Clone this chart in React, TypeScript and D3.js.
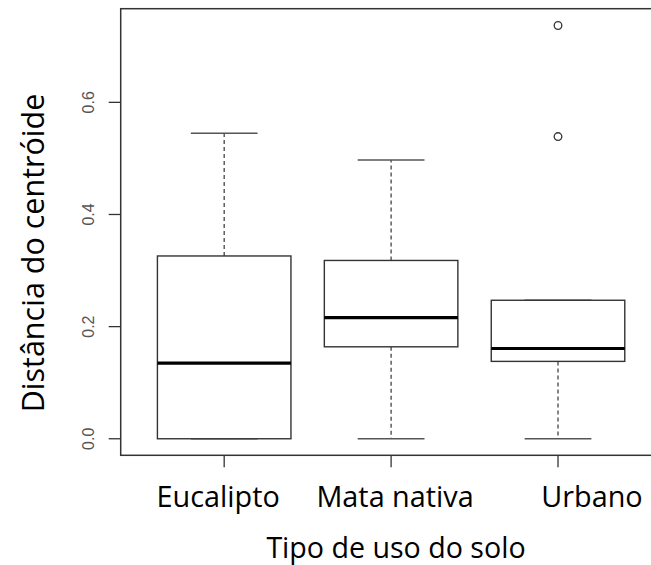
import React from "react";
import * as d3 from "d3";

const categories = ["Eucalipto", "Mata nativa", "Urbano"];
const lowerWhisker = [0, 0, 0];
const q1 = [0, 0.164, 0.138];
const median = [0.135, 0.216, 0.161];
const q3 = [0.326, 0.318, 0.247];
const upperWhisker = [0.545, 0.497, 0.247];
const outliers: number[][] = [[], [], [0.539, 0.737]];
const yTicks = [0, 0.2, 0.4, 0.6];
const labelShift = [-6, 4, 34];

const W = 651;
const H = 565;
const labelFont = "'Open Sans', Lato, sans-serif";

export default function App() {
  const x = d3.scaleLinear().domain([0.38, 3.62]).range([120.7, 661.5]);
  const y = d3.scaleLinear().domain([-0.0295, 0.767]).range([455.3, 8.7]);
  const unit = x(2) - x(1);
  const boxHalf = 0.4 * unit;
  const capHalf = 0.2 * unit;
  const frame = "#333";
  const left = x(0.38);
  const right = x(3.62);
  const top = y(0.767);
  const bottom = y(-0.0295);

  return (
    <div style={{ position: "absolute", left: 0, top: 0 }}>
      <svg width={W} height={H} style={{ display: "block", background: "#fff" }}>
        <rect x={0} y={0} width={W} height={H} fill="#fff" />
        <rect x={left} y={top} width={right - left} height={bottom - top} fill="none" stroke={frame} strokeWidth={1.5} />
        {yTicks.map((t) => (
          <g key={t}>
            <line x1={left - 12} x2={left} y1={y(t)} y2={y(t)} stroke={frame} strokeWidth={1.3} />
            <text
              transform={`translate(${left - 32},${y(t)}) rotate(-90)`}
              textAnchor="middle"
              dominantBaseline="central"
              fontFamily="Liberation Sans, Arial, sans-serif"
              fontSize={16}
              fill="#555"
            >
              {d3.format(".1f")(t)}
            </text>
          </g>
        ))}
        {categories.map((c, i) => (
          <line key={c} x1={x(i + 1)} x2={x(i + 1)} y1={bottom} y2={bottom + 12} stroke={frame} strokeWidth={1.3} />
        ))}
        {categories.map((c, i) => {
          const cx = x(i + 1);
          return (
            <g key={c}>
              <line x1={cx} x2={cx} y1={y(q3[i])} y2={y(upperWhisker[i])} stroke="#444" strokeWidth={1.3} strokeDasharray="4,3" />
              <line x1={cx} x2={cx} y1={y(q1[i])} y2={y(lowerWhisker[i])} stroke="#444" strokeWidth={1.3} strokeDasharray="4,3" />
              <line x1={cx - capHalf} x2={cx + capHalf} y1={y(upperWhisker[i])} y2={y(upperWhisker[i])} stroke="#555" strokeWidth={1.5} />
              <line x1={cx - capHalf} x2={cx + capHalf} y1={y(lowerWhisker[i])} y2={y(lowerWhisker[i])} stroke="#555" strokeWidth={1.5} />
              <rect x={cx - boxHalf} y={y(q3[i])} width={2 * boxHalf} height={y(q1[i]) - y(q3[i])} fill="#fff" stroke={frame} strokeWidth={1.4} />
              <line x1={cx - boxHalf} x2={cx + boxHalf} y1={y(median[i])} y2={y(median[i])} stroke="#000" strokeWidth={3.2} />
              {outliers[i].map((o) => (
                <circle key={o} cx={cx} cy={y(o)} r={3.8} fill="none" stroke="#333" strokeWidth={1.3} />
              ))}
            </g>
          );
        })}
        {categories.map((c, i) => (
          <text key={c} x={x(i + 1) + labelShift[i]} y={507} textAnchor="middle" fontFamily={labelFont} fontSize={28.8} fill="#000">
            {c}
          </text>
        ))}
        <text x={396} y={558} textAnchor="middle" fontFamily={labelFont} fontSize={28.6} fill="#000">
          Tipo de uso do solo
        </text>
        <text transform={`translate(44,253) rotate(-90)`} textAnchor="middle" fontFamily={labelFont} fontSize={30.5} fill="#000">
          Distância do centróide
        </text>
      </svg>
    </div>
  );
}
